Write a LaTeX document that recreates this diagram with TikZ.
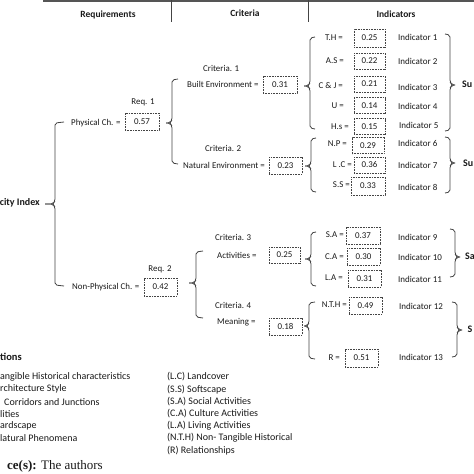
\documentclass[tikz,border=0pt]{standalone}
\usepackage{fontspec}
\setmainfont{Carlito}
\newfontfamily\serifcap{Liberation Serif}
\definecolor{txt}{HTML}{1A1A1A}
\definecolor{ln}{HTML}{444444}
\definecolor{hdrline}{HTML}{555555}
\tikzset{
 every node/.style={inner sep=0pt, text=txt},
 hdr/.style={font=\fontsize{9.5}{11}\selectfont\bfseries},
 lbl/.style={font=\fontsize{8.9}{10}\selectfont},
 ind/.style={font=\fontsize{9}{10}\selectfont, anchor=west},
 valbox/.style={draw=ln, line width=0.5pt, dash pattern=on 1pt off 0.6pt, minimum width=32pt, minimum height=17pt, font=\fontsize{8.9}{10}\selectfont},
 brc/.style={draw=ln, line width=0.8pt, rounded corners=2pt},
 abbr/.style={font=\fontsize{10}{12}\selectfont, anchor=west},
 subl/.style={font=\fontsize{10}{12}\selectfont\bfseries, anchor=west},
}
% opening brace: #1 x of spine, #2 top, #3 bottom, #4 tip y, #5 hook, #6 tip length
\newcommand{\OpenBr}[6]{%
 \draw[brc] ({#1+#5},{#2-1}) -- (#1,{#2}) -- (#1,{#4-3}) -- ({#1-2},{#4}) -- ({#1-#6},{#4});
 \draw[brc] ({#1-#6},{#4}) -- ({#1-2},{#4}) -- (#1,{#4+3}) -- (#1,{#3}) -- ({#1+#5},{#3+1});}
\newcommand{\CloseBr}[6]{%
 \draw[brc] ({#1-#5},{#2-1}) -- (#1,{#2}) -- (#1,{#4-3}) -- ({#1+2},{#4}) -- ({#1+#6},{#4});
 \draw[brc] ({#1+#6},{#4}) -- ({#1+2},{#4}) -- (#1,{#4+3}) -- (#1,{#3}) -- ({#1-#5},{#3+1});}
\begin{document}
\begin{tikzpicture}[x=1pt,y=-1pt]
\useasboundingbox (0,0) rectangle (474,474);
\clip (0,0) rectangle (474,474);
\fill[white] (0,0) rectangle (474,474);
% header
\draw[hdrline, line width=2.5pt] (43,0.8) -- (474,0.8);
\draw[ln, line width=0.8pt] (171,0) -- (171,22);
\draw[ln, line width=0.8pt] (308,0) -- (308,22);
\node[hdr] (hreq) at (108,15) {Requirements};
\node[hdr] (hcri) at (245,13) {Criteria};
\node[hdr] (hind) at (396,14) {Indicators};
% root
\node[font=\fontsize{10}{12}\selectfont\bfseries, anchor=east] (root) at (40,203) {city Index};
\OpenBr{55}{123}{285}{204}{9}{10}
% requirements
\node[lbl] (req1) at (143,102) {Req. 1};
\node[lbl, anchor=west] (phys) at (71,123) {Physical Ch. =};
\node[valbox, minimum width=34pt] (v57) at (142,121.5) {0.57};
\node[lbl] (req2) at (160,269) {Req. 2};
\node[lbl, anchor=west] (nphys) at (72,287) {Non-Physical Ch. =};
\node[valbox, minimum width=33pt, minimum height=18pt] (v42) at (160.5,287) {0.42};
\OpenBr{172}{80}{163}{123}{6}{6}
\OpenBr{196}{252}{317}{283}{7}{7}
% criteria
\node[lbl, anchor=west] (c1) at (203,68) {Criteria. 1};
\node[lbl, anchor=west] (be) at (187,84) {Built Environment =};
\node[valbox, minimum width=34pt] (v31) at (280,84.5) {0.31};
\node[lbl, anchor=west] (c2) at (205,148) {Criteria. 2};
\node[lbl, anchor=west] (ne) at (183,165) {Natural Environment =};
\node[valbox, minimum width=33pt] (v23) at (285.5,165.5) {0.23};
\node[lbl, anchor=west] (c3) at (215,237) {Criteria. 3};
\node[lbl, anchor=west] (act) at (217,255) {Activities =};
\node[valbox, minimum width=31pt, minimum height=16pt] (v25c) at (284.5,255) {0.25};
\node[lbl, anchor=west] (c4) at (215,305) {Criteria. 4};
\node[lbl, anchor=west] (mea) at (217,322) {Meaning =};
\node[valbox, minimum width=33pt] (v18) at (285.5,326.5) {0.18};
\OpenBr{310}{38}{128}{86}{5}{6}
\OpenBr{311}{139}{191}{166}{5}{6}
\OpenBr{311}{233}{285}{259}{5}{6}
\OpenBr{309}{303}{358}{326}{6}{5}
% indicators
\node[lbl, anchor=east] (l1) at (343,38) {T.H =};
\node[valbox, minimum width=31pt, minimum height=18pt] (i1) at (369.5,38) {0.25};
\node[ind] (n1) at (398,37) {Indicator 1};
\node[lbl, anchor=east] (l2) at (344,61) {A.S =};
\node[valbox, minimum width=31pt, minimum height=16pt] (i2) at (369.5,61) {0.22};
\node[ind] (n2) at (398,61) {Indicator 2};
\node[lbl, anchor=east] (l3) at (343,85) {C \& J =};
\node[valbox, minimum width=31pt, minimum height=16pt] (i3) at (369.5,84) {0.21};
\node[ind] (n3) at (398,87) {Indicator 3};
\node[lbl, anchor=east] (l4) at (344,106) {U =};
\node[valbox, minimum width=31pt, minimum height=16pt] (i4) at (369.5,105.5) {0.14};
\node[ind] (n4) at (398,106) {Indicator 4};
\node[lbl, anchor=east] (l5) at (349,127) {H.s =};
\node[valbox, minimum width=31pt, minimum height=16pt] (i5) at (369.5,126.5) {0.15};
\node[ind] (n5) at (399,125) {Indicator 5};
\node[lbl, anchor=east] (l6) at (347,144) {N.P =};
\node[valbox, minimum width=32pt, minimum height=16pt] (i6) at (368,145.5) {0.29};
\node[ind] (n6) at (398,143) {Indicator 6};
\node[lbl, anchor=east] (l7) at (352,165) {L .C =};
\node[valbox, minimum width=31pt, minimum height=16pt] (i7) at (369.5,165) {0.36};
\node[ind] (n7) at (398,165) {Indicator 7};
\node[lbl, anchor=east] (l8) at (350,185) {S.S =};
\node[valbox, minimum width=34pt, minimum height=18pt] (i8) at (368,186) {0.33};
\node[ind] (n8) at (398,187) {Indicator 8};
\node[lbl, anchor=east] (l9) at (344,235) {S.A =};
\node[valbox, minimum width=34pt, minimum height=17pt] (i9) at (363,235.5) {0.37};
\node[ind] (n9) at (398,237) {Indicator 9};
\node[lbl, anchor=east] (l10) at (344,257) {C.A =};
\node[valbox, minimum width=33pt, minimum height=17pt] (i10) at (363.5,256.5) {0.30};
\node[ind] (n10) at (398,257) {Indicator 10};
\node[lbl, anchor=east] (l11) at (343,278) {L.A =};
\node[valbox, minimum width=33pt, minimum height=17pt] (i11) at (364.5,278.5) {0.31};
\node[ind] (n11) at (398,279) {Indicator 11};
\node[lbl, anchor=east] (l12) at (347,305) {N.T.H =};
\node[valbox, minimum width=33pt, minimum height=17pt] (i12) at (365.5,305.5) {0.49};
\node[ind] (n12) at (399,306) {Indicator 12};
\node[lbl, anchor=east] (l13) at (340,358) {R =};
\node[valbox, minimum width=33pt, minimum height=18pt] (i13) at (361.5,358) {0.51};
\node[ind] (n13) at (399,357) {Indicator 13};
% closing braces
\CloseBr{450}{35}{130}{85}{5}{5}
\CloseBr{450}{138}{192}{163}{5}{5}
\CloseBr{455}{230}{276}{257}{5}{5}
\CloseBr{457}{303}{356}{330}{5}{5}
\node[subl] (s1) at (462,84) {Su};
\node[subl] (s2) at (463,163) {Su};
\node[subl] (s3) at (465,256) {Sa};
\node[subl] (s4) at (467.5,329) {S};
% abbreviations
\node[font=\fontsize{10.5}{12}\selectfont\bfseries, anchor=west] (abh) at (0,357) {tions};
\node[abbr] (a1) at (0,377) {angible Historical characteristics};
\node[abbr] (a2) at (0,389.3) {rchitecture Style};
\node[abbr] (a3) at (4,401.6) {Corridors and Junctions};
\node[abbr] (a4) at (0,413.9) {lities};
\node[abbr] (a5) at (0,426.2) {ardscape};
\node[abbr] (a6) at (0,438.5) {latural Phenomena};
\node[abbr] (b1) at (167,377) {(L.C) Landcover};
\node[abbr] (b2) at (167,389.2) {(S.S) Softscape};
\node[abbr] (b3) at (167,401.4) {(S.A) Social Activities};
\node[abbr] (b4) at (167,413.6) {(C.A) Culture Activities};
\node[abbr] (b5) at (167,425.8) {(L.A) Living Activities};
\node[abbr] (b6) at (167,438) {(N.T.H) Non- Tangible Historical};
\node[abbr] (b7) at (167,450.2) {(R) Relationships};
\node[font=\serifcap\fontsize{13}{15}\selectfont, anchor=east] (src) at (103,466) {\textbf{ce(s):} The authors};
\end{tikzpicture}
\end{document}
